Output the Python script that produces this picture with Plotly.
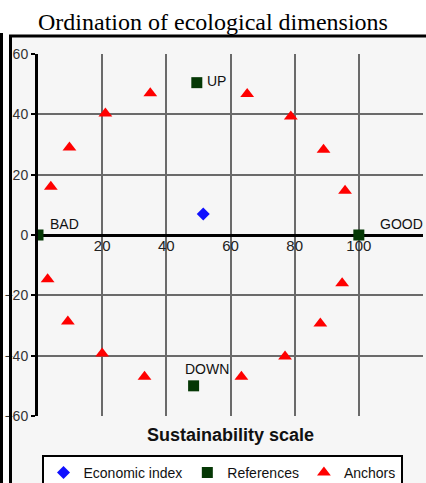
import plotly.graph_objects as go

# ---------------- data ----------------
anchor_x = [4, 9.8, 21, 35, 65.2, 78.8, 89, 95.7, 3, 9.3, 20, 33.2, 94.8, 88, 77, 63.4]
anchor_y = [16, 29, 40.3, 47, 46.7, 39.3, 28.3, 14.7, -14.7, -28.7, -39.3, -47, -16, -29.3, -40.3, -47]

ref_labels = ["BAD", "GOOD", "UP", "DOWN"]
ref_x = [0, 100, 49.5, 48.5]
ref_y = [0, 0, 50.5, -50]

econ_x = [51.5]
econ_y = [7]

x_tick_vals = [20, 40, 60, 80, 100, 120]
y_tick_vals = [-60, -40, -20, 0, 20, 40, 60]

title_text = "Ordination of ecological dimensions"
x_title = "Sustainability scale"
series_names = ["Economic index", "References", "Anchors"]

# ---------------- layout constants ----------------
W, H = 426, 483
ML, MR, MT, MB = 38, 3, 54, 67
PW, PH = W - ML - MR, H - MT - MB

SANS = "Liberation Sans, Arial, Helvetica, sans-serif"
SERIF = "Liberation Serif, Times New Roman, serif"


def px(xp):
    return (xp - ML) / PW


def py(yp):
    return (H - MB - yp) / PH


fig = go.Figure()

fig.add_trace(go.Scatter(
    x=econ_x, y=econ_y, mode="markers", name=series_names[0],
    marker=dict(symbol="diamond", size=10, color="#1010ff"),
))
fig.add_trace(go.Scatter(
    x=ref_x, y=ref_y, mode="markers", name=series_names[1],
    marker=dict(symbol="square", size=11, color="#053805"),
))
fig.add_trace(go.Scatter(
    x=anchor_x, y=anchor_y, mode="markers", name=series_names[2],
    marker=dict(symbol="triangle-up", size=12, color="#ff0000"),
))
# helper trace so that the middle x axis (tick labels on y=0) is drawn
fig.add_trace(go.Scatter(x=[], y=[], xaxis="x2", showlegend=False, hoverinfo="skip"))

# reference labels
label_offsets = {
    "BAD": dict(xshift=10, yshift=1, xanchor="left", yanchor="bottom"),
    "GOOD": dict(xshift=19, yshift=1, xanchor="left", yanchor="bottom"),
    "UP": dict(xshift=8, yshift=2, xanchor="left", yanchor="middle"),
    "DOWN": dict(xshift=13, yshift=7, xanchor="center", yanchor="bottom"),
}
annotations = []
for lab, xv, yv in zip(ref_labels, ref_x, ref_y):
    annotations.append(dict(
        x=xv, y=yv, xref="x", yref="y", text=lab, showarrow=False,
        font=dict(family=SANS, size=14, color="#111111"),
        **label_offsets[lab],
    ))

shapes = [
    # light frame background
    dict(type="rect", xref="paper", yref="paper", layer="below",
         x0=px(10), x1=px(W + 10), y0=py(H + 10), y1=py(36),
         fillcolor="#f6f6f6", line=dict(width=0)),
    # frame lines
    dict(type="line", xref="paper", yref="paper", x0=px(1.5), x1=px(1.5),
         y0=py(33), y1=py(H + 10), line=dict(color="black", width=3)),
    dict(type="line", xref="paper", yref="paper", x0=px(10.5), x1=px(10.5),
         y0=py(36), y1=py(H + 10), line=dict(color="black", width=3)),
    dict(type="line", xref="paper", yref="paper", x0=px(9), x1=px(W + 10),
         y0=py(36), y1=py(36), line=dict(color="black", width=3)),
]

fig.update_layout(
    width=W, height=H,
    margin=dict(l=ML, r=MR, t=MT, b=MB, autoexpand=False),
    paper_bgcolor="white",
    plot_bgcolor="#f7f7f7",
    title=dict(text=title_text, x=0.5, xref="container", xanchor="center",
               y=1 - 13 / H, yref="container", yanchor="top",
               font=dict(family=SERIF, size=24, color="black")),
    xaxis=dict(
        range=[0, 120], showgrid=True, gridcolor="#6a6a6a", gridwidth=2,
        dtick=20, tick0=0, showticklabels=False, ticks="", zeroline=False,
        showline=False, automargin=False,
        title=dict(text=x_title, standoff=12,
                   font=dict(family=SANS, size=18, color="#111111", weight="bold")),
    ),
    xaxis2=dict(
        range=[0, 120], overlaying="x", anchor="free", position=0.5, side="bottom",
        showgrid=False, zeroline=False, showline=False, ticks="",
        tickvals=x_tick_vals, ticktext=[str(v) for v in x_tick_vals],
        tickfont=dict(family=SANS, size=15, color="#222222"),
        automargin=False,
    ),
    yaxis=dict(
        range=[-60, 60], tickvals=y_tick_vals, showgrid=True, gridcolor="#6a6a6a",
        gridwidth=2, zeroline=True, zerolinecolor="black", zerolinewidth=3,
        showline=True, linecolor="black", linewidth=3,
        ticks="outside", ticklen=4, tickwidth=2, tickcolor="black",
        tickfont=dict(family=SANS, size=14, color="#333333"),
        automargin=False,
    ),
    legend=dict(
        orientation="h", xref="paper", yref="paper", x=px(222), y=py(455),
        xanchor="center", yanchor="top", bgcolor="white", bordercolor="black",
        borderwidth=2, itemwidth=30,
        font=dict(family=SANS, size=14, color="#111111"),
    ),
    annotations=annotations,
    shapes=shapes,
    showlegend=True,
)

fig.write_html("out.html", config={"displayModeBar": False},
               post_script="document.body.style.margin='0px';")
